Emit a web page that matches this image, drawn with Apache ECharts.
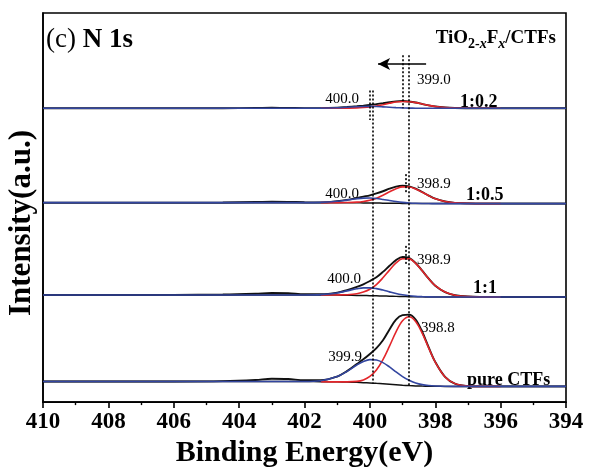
<!DOCTYPE html>
<html><head><meta charset="utf-8">
<script src="https://cdn.jsdelivr.net/npm/echarts@6/dist/echarts.min.js"></script>
<style>html,body{margin:0;padding:0;background:#fff}#c{width:589px;height:473px}</style>
</head><body><div id="c"></div>
<script>
// Binding energy grid (eV)
const energy = [410,408,406,404.5,403.5,403,402.5,402,401.5,401,400.7,400.4,400.2,400,399.8,399.6,399.4,399.2,399,398.8,398.6,398.4,398.2,398,397.7,397.4,397,396.5,396,395,394];
const sampleNames = ['1:0.2','1:0.5','1:1','pure CTFs'];
const offsets = [299, 202, 107, 16];
const xTicks = [410,408,406,404,402,400,398,396,394];

// 1:0.2
const black02 = [0,0,0,0.1,0.3,0.5,0.4,0.2,0.2,0.6,1.3,2.1,2.7,3.4,4.3,5.2,6.2,7.1,7.4,6.9,5.9,4.4,3.0,1.8,0.8,0.3,0.1,0,0,0,0];
const red02   = [null,null,null,null,null,null,null,null,0,0,0.15,0.4,0.8,1.4,2.4,3.7,5.1,6.4,7.0,6.7,5.8,4.4,3.0,1.8,0.8,0.3,0.1,0,0,null,null];
const blue02  = [0,0,0,0,0,0,0,0,0.1,0.5,1.1,1.65,1.9,2.0,1.85,1.5,1.1,0.7,0.4,0.2,0.1,0,0,0,0,0,0,0,0,0,0];
// 1:0.5
const black05 = [1,1,1,1.2,1.6,2,1.8,1.4,1.3,2.4,3.8,5.7,7.1,8.45,10.4,12.6,15.2,17.3,18.2,17.6,15.3,11.8,8.2,5.0,2.2,0.8,0.2,0,0,0,0];
const red05   = [null,null,null,null,null,null,null,null,1,0.95,1.1,1.5,2.2,3.45,5.55,8.6,12.0,15.1,17.0,16.95,14.9,11.65,8.1,5.0,2.2,0.8,0.2,0,0,null,null];
const blue05  = [1,1,1,1,1,1,1,1,1.25,2.35,3.6,5.0,5.6,5.65,5.2,4.25,3.15,2.1,1.25,0.7,0.35,0.15,0.05,0,0,0,0,0,0,0,0];
const bg05    = [1,1,1,1,1,1,1,1,1,0.95,0.9,0.8,0.72,0.65,0.58,0.5,0.4,0.3,0.22,0.15,0.1,0.05,0,0,0,0,0,0,0,0,0];
// 1:1
const black11 = [2,2,2.1,2.5,3.3,4,3.8,2.8,2.8,4.4,7.0,10.2,12.8,16.2,20.0,25.5,31.7,37.5,40.6,39.7,34.6,26.7,18.6,11.5,5,1.8,0.4,0.1,0,0,0];
const red11   = [null,null,null,null,null,null,null,null,2.0,2.1,2.3,3.2,4.95,7.8,12.65,19.5,27.3,34.6,38.95,38.8,34.2,26.6,18.55,11.5,5,1.8,0.4,0,0,null,null];
const blue11  = [2,2,2,2,2,2,2,2,2.4,4.1,6.2,8.3,9.3,9.3,8.5,7.0,5.2,3.5,2.2,1.2,0.6,0.3,0.1,0,0,0,0,0,0,0,0];
const bg11    = [2,2,2,2,2,2,2,2,2,1.9,1.8,1.6,1.45,1.3,1.15,1.0,0.8,0.6,0.45,0.3,0.2,0.1,0.05,0,0,0,0,0,0,0,0];
// pure CTFs
const blackP  = [5,5,5,5.3,6.5,7.8,7.5,6.2,6.2,10.0,15.5,22.7,27.5,33,39,47,58,68,72.5,73,68,55.6,39.7,24.9,9.7,2.8,0.3,0,0,0,0];
const redP    = [null,null,null,null,null,null,null,null,4.8,4.6,4.6,5.1,6.6,10.1,16.7,27.2,41.0,55.5,66.7,70.8,66.0,54.1,39.0,24.6,9.6,2.8,0.3,0,0,null,null];
const blueP   = [5,5,5,5,5,5,5,5.0,5.8,10.0,15.3,21.7,25.3,27.2,26.8,24.2,19.8,14.8,10.0,6.2,3.5,1.8,0.85,0.35,0.1,0,0,0,0,0,0];
const bgP     = [5,5,5,5,5,5,5,4.9,4.8,4.6,4.4,4.1,3.8,3.5,3.1,2.7,2.2,1.7,1.2,0.8,0.5,0.3,0.15,0.05,0,0,0,0,0,0,0];

const spectra = [
  {black: black02, bg: null, red: red02, blue: blue02},
  {black: black05, bg: bg05, red: red05, blue: blue05},
  {black: black11, bg: bg11, red: red11, blue: blue11},
  {black: blackP,  bg: bgP,  red: redP,  blue: blueP}
];

const BLACK = '#111', RED = '#e3262b', BLUE = '#3346a0';
const SERIF = 'Liberation Serif';

function pts(vals, off) {
  const out = [];
  energy.forEach((e, i) => { if (vals[i] != null) out.push([e, vals[i] + off]); });
  return out;
}
function lineSeries(vals, off, color, w) {
  return {type: 'line', data: pts(vals, off), symbol: 'none', smooth: 0.35,
    lineStyle: {color: color, width: w}, silent: true};
}

const series = [];
spectra.forEach((s, k) => {
  const off = offsets[k];
  series.push(lineSeries(s.black, off, BLACK, 1.9));
  if (s.bg) series.push(lineSeries(s.bg, off, BLACK, 1.5));
  series.push(lineSeries(s.red, off, RED, 1.6));
  series.push(lineSeries(s.blue, off, BLUE, 1.6));
});

// dotted reference lines and arrow
series.push({
  type: 'line', data: [], symbol: 'none',
  markLine: {
    silent: true, symbol: ['none', 'none'], label: {show: false},
    lineStyle: {color: '#000', width: 1.6, type: [2, 2]},
    data: [
      [{coord: [399.9, 317]}, {coord: [399.9, 19]}],
      [{coord: [398.8, 353]}, {coord: [398.8, 17]}],
      [{coord: [400.0, 317]}, {coord: [400.0, 287]}],
      [{coord: [399.0, 353]}, {coord: [399.0, 299]}],
      [{coord: [398.9, 232]}, {coord: [398.9, 212]}],
      [{coord: [398.9, 159]}, {coord: [398.9, 139]}]
    ]
  }
});
series.push({
  type: 'line', data: [], symbol: 'none',
  markLine: {
    silent: true, symbol: ['none', 'arrow'], symbolSize: [9, 12], label: {show: false},
    lineStyle: {color: '#000', width: 1.6, type: 'solid'},
    data: [[{coord: [398.28, 344]}, {coord: [399.75, 344]}]]
  }
});

function txt(x, y, text, size, weight, align) {
  return {type: 'text', x: x, y: y, silent: true,
    style: {text: text, fontFamily: SERIF, fontSize: size, fontWeight: weight, fill: '#000',
      align: align || 'left', verticalAlign: 'middle'}};
}

const graphic = [
  {type: 'text', x: 46, y: 40, silent: true, style: {
    text: '{a|(c) }{b|N 1s}', fill: '#000', verticalAlign: 'middle', align: 'left',
    rich: {a: {fontFamily: SERIF, fontSize: 27, fontWeight: 'normal'},
           b: {fontFamily: SERIF, fontSize: 27, fontWeight: 'bold'}}}},
  {type: 'text', x: 556, y: 40, silent: true, style: {
    text: '{m|TiO}{s|2-}{si|x}{m|F}{si|x}{m|/CTFs}', fill: '#000', verticalAlign: 'middle', align: 'right',
    rich: {m: {fontFamily: SERIF, fontSize: 19, fontWeight: 'bold', lineHeight: 22, verticalAlign: 'top'},
           s: {fontFamily: SERIF, fontSize: 14, fontWeight: 'bold', lineHeight: 15, padding: [9, 0, 0, 0], verticalAlign: 'bottom'},
           si: {fontFamily: SERIF, fontSize: 14, fontWeight: 'bold', fontStyle: 'italic', lineHeight: 15, padding: [9, 0, 0, 0], verticalAlign: 'bottom'}}}},
  {type: 'text', x: 22, y: 223, rotation: Math.PI / 2, silent: true, style: {
    text: 'Intensity(a.u.)', fontFamily: SERIF, fontSize: 31, fontWeight: 'bold', fill: '#000',
    align: 'center', verticalAlign: 'middle'}},
  txt(460, 102, sampleNames[0], 18, 'bold'),
  txt(466, 195, sampleNames[1], 18, 'bold'),
  txt(473, 288, sampleNames[2], 18, 'bold'),
  txt(467, 380, sampleNames[3], 18, 'bold'),
  txt(417, 80, '399.0', 15, 'normal'),
  txt(359, 99, '400.0', 15, 'normal', 'right'),
  txt(417, 184, '398.9', 15, 'normal'),
  txt(359, 194, '400.0', 15, 'normal', 'right'),
  txt(417, 260, '398.9', 15, 'normal'),
  txt(361, 279, '400.0', 15, 'normal', 'right'),
  txt(421, 328, '398.8', 15, 'normal'),
  txt(362, 357, '399.9', 15, 'normal', 'right')
];

const chart = echarts.init(document.getElementById('c'), null, {renderer: 'canvas'});
chart.setOption({
  animation: false,
  backgroundColor: '#fff',
  grid: {left: 43, right: 23, top: 13, bottom: 64, show: true, borderColor: '#000', borderWidth: 1.6, backgroundColor: 'transparent'},
  xAxis: {
    type: 'value', inverse: true, min: 394, max: 410, interval: 2,
    name: 'Binding Energy(eV)', nameLocation: 'middle', nameGap: 28,
    nameTextStyle: {fontFamily: SERIF, fontWeight: 'bold', fontSize: 30, color: '#000'},
    axisLine: {show: true, lineStyle: {color: '#000', width: 1.6}},
    axisTick: {show: true, length: 6, lineStyle: {color: '#000', width: 1.6}},
    minorTick: {show: true, splitNumber: 2, length: 3, lineStyle: {color: '#000', width: 1.4}},
    axisLabel: {fontFamily: SERIF, fontWeight: 'bold', fontSize: 23, color: '#000', margin: 8,
      formatter: v => xTicks.includes(v) ? String(v) : ''},
    splitLine: {show: false}
  },
  yAxis: {
    type: 'value', min: 0, max: 396,
    axisLine: {show: true, lineStyle: {color: '#000', width: 1.6}},
    axisTick: {show: false}, axisLabel: {show: false}, splitLine: {show: false}
  },
  graphic: graphic,
  series: series
});
</script></body></html>
